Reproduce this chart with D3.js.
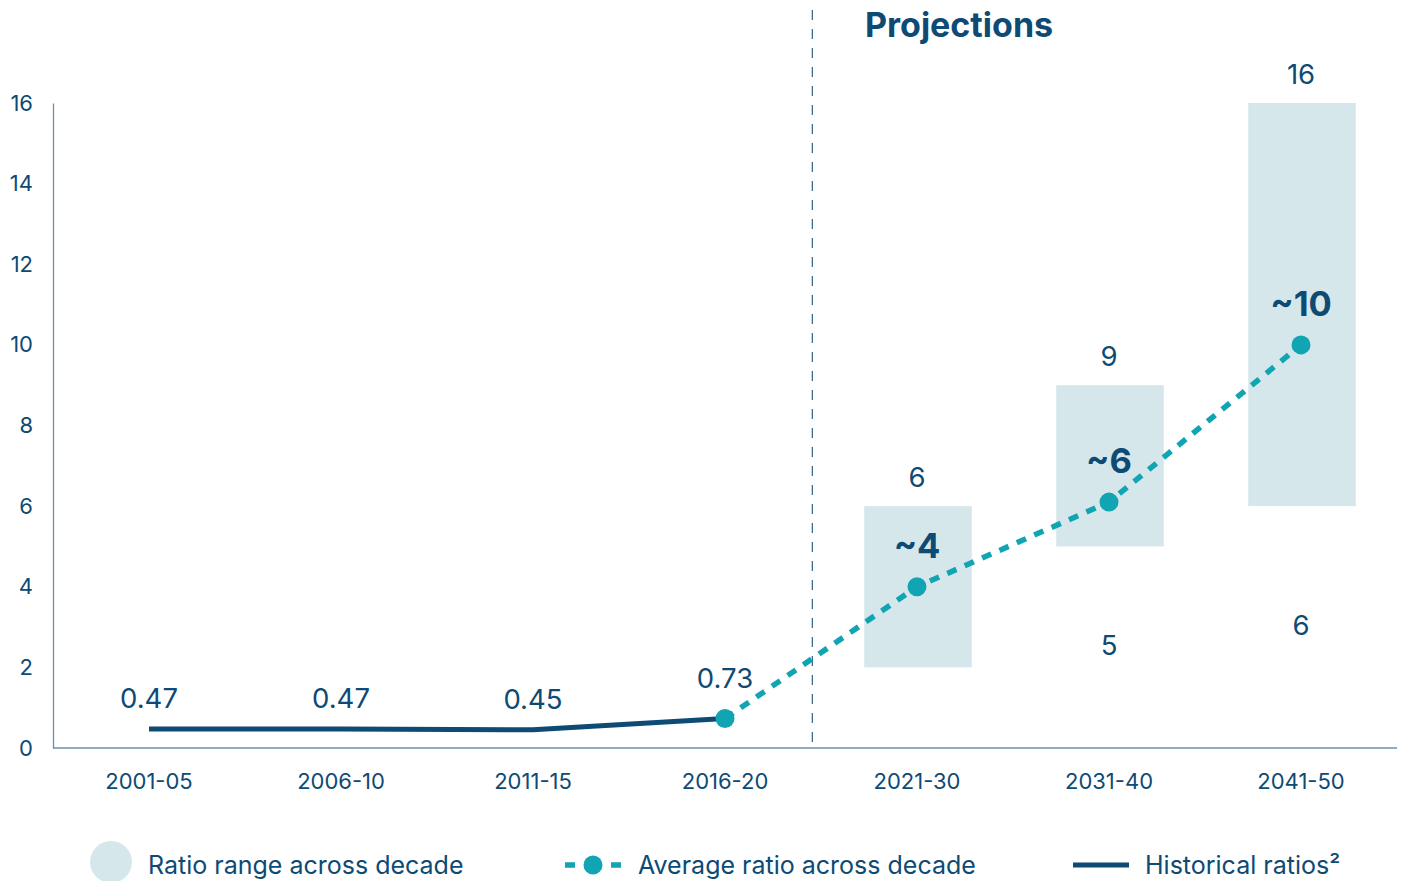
<!DOCTYPE html>
<html>
<head>
<meta charset="utf-8">
<script src="https://cdn.jsdelivr.net/npm/d3@7"></script>
<style>
  html, body { margin: 0; padding: 0; background: #ffffff; }
  svg { display: block; font-family: Inter, "Noto Sans", sans-serif; }
</style>
</head>
<body>
<svg id="chart" width="1405" height="881"></svg>
<script>
// Decades on the x axis
const categories = ["2001-05", "2006-10", "2011-15", "2016-20", "2021-30", "2031-40", "2041-50"];

// Historical ratios (solid line)
const histCats = ["2001-05", "2006-10", "2011-15", "2016-20"];
const histValues = [0.47, 0.47, 0.45, 0.73];
const histLabels = ["0.47", "0.47", "0.45", "0.73"];

// Average ratio across decade (dashed line with markers)
const avgCats = ["2016-20", "2021-30", "2031-40", "2041-50"];
const avgValues = [0.73, 4, 6.1, 10];
const avgLabels = [null, "~4", "~6", "~10"];

// Ratio range across decade (shaded boxes)
const rangeCats = ["2021-30", "2031-40", "2041-50"];
const rangeLow = [2, 5, 6];
const rangeHigh = [6, 9, 16];
const rangeHighLabels = ["6", "9", "16"];
const rangeLowLabels = [null, "5", "6"];

const yTicks = [0, 2, 4, 6, 8, 10, 12, 14, 16];

const NAVY = "#0d4a74";
const TEAL = "#11a4b2";
const BOX = "#d6e7eb";
const AXIS = "#6a91ac";

const svg = d3.select("#chart");

const x = d3.scaleBand().domain(categories).range([53, 1397]).paddingInner(0.44).paddingOuter(0.22);
const y = d3.scaleLinear().domain([0, 16]).range([748, 103]);
const cx = c => x(c) + x.bandwidth() / 2;

// Range boxes
svg.append("g").selectAll("rect")
  .data(rangeCats)
  .join("rect")
  .attr("x", d => x(d) + 1)
  .attr("width", x.bandwidth())
  .attr("y", (d, i) => y(rangeHigh[i]))
  .attr("height", (d, i) => y(rangeLow[i]) - y(rangeHigh[i]))
  .attr("fill", BOX);

// Projections divider
const divX = cx("2016-20") + x.step() * 0.455;
svg.append("line")
  .attr("x1", divX).attr("x2", divX)
  .attr("y1", 10).attr("y2", 742)
  .attr("stroke", "#3a6d91").attr("stroke-width", 1.3)
  .attr("stroke-dasharray", "10,9");

svg.append("text")
  .attr("x", 865).attr("y", 37)
  .attr("fill", NAVY).attr("font-size", 34).attr("font-weight", 700)
  .text("Projections");

// Axes
const yAxis = d3.axisLeft(y).tickValues(yTicks).tickSize(0).tickPadding(20).tickFormat(d3.format("d"));
const gy = svg.append("g").attr("transform", "translate(53,0)").call(yAxis);
gy.select(".domain").attr("stroke", AXIS).attr("stroke-width", 1.3);
gy.selectAll("text").attr("fill", NAVY).attr("font-size", 22).attr("font-family", "Inter, sans-serif");

const xAxis = d3.axisBottom(x).tickSize(0).tickPadding(25);
const gx = svg.append("g").attr("transform", "translate(0,748)").call(xAxis);
gx.select(".domain").attr("d", "M53,0H1397").attr("stroke", AXIS).attr("stroke-width", 1.3);
gx.selectAll("text").attr("fill", NAVY).attr("font-size", 22).attr("font-family", "Inter, sans-serif");

// Historical line
const histLine = d3.line().x(d => cx(d.c)).y(d => y(d.v));
const histData = histCats.map((c, i) => ({ c, v: histValues[i] }));
svg.append("path")
  .datum(histData)
  .attr("d", histLine)
  .attr("fill", "none").attr("stroke", NAVY).attr("stroke-width", 5);

// Average line
const avgData = avgCats.map((c, i) => ({ c, v: avgValues[i] }));
svg.append("path")
  .datum(avgData)
  .attr("d", histLine)
  .attr("fill", "none").attr("stroke", TEAL).attr("stroke-width", 5.5)
  .attr("stroke-dasharray", "10,9");

svg.append("g").selectAll("circle")
  .data(avgData)
  .join("circle")
  .attr("cx", d => cx(d.c)).attr("cy", d => y(d.v)).attr("r", 9.5)
  .attr("fill", TEAL);

// Historical value labels
svg.append("g").selectAll("text")
  .data(histData)
  .join("text")
  .attr("x", d => cx(d.c))
  .attr("y", (d, i) => y(d.v) - (i === histData.length - 1 ? 31 : 21))
  .attr("text-anchor", "middle")
  .attr("fill", NAVY).attr("font-size", 27.5)
  .text((d, i) => histLabels[i]);

// Average value labels
svg.append("g").selectAll("text")
  .data(avgData.filter((d, i) => avgLabels[i]))
  .join("text")
  .attr("x", d => cx(d.c))
  .attr("y", d => y(d.v) - 29)
  .attr("text-anchor", "middle")
  .attr("fill", NAVY).attr("font-size", 34.5).attr("font-weight", 700)
  .text(d => avgLabels[avgCats.indexOf(d.c)]);

// Range labels
svg.append("g").selectAll("text")
  .data(rangeCats)
  .join("text")
  .attr("x", d => cx(d))
  .attr("y", (d, i) => y(rangeHigh[i]) - 19)
  .attr("text-anchor", "middle")
  .attr("fill", NAVY).attr("font-size", 27.5)
  .text((d, i) => rangeHighLabels[i]);

svg.append("g").selectAll("text")
  .data(rangeCats.filter((d, i) => rangeLowLabels[i]))
  .join("text")
  .attr("x", d => cx(d))
  .attr("y", d => y(rangeLow[rangeCats.indexOf(d)] / 2) + 8)
  .attr("text-anchor", "middle")
  .attr("fill", NAVY).attr("font-size", 27.5)
  .text(d => rangeLowLabels[rangeCats.indexOf(d)]);

// Legend
const lg = svg.append("g");
lg.append("circle").attr("cx", 111).attr("cy", 862).attr("r", 21).attr("fill", BOX);
lg.append("text").attr("x", 148).attr("y", 874).attr("fill", NAVY).attr("font-size", 25).text("Ratio range across decade");

lg.append("line").attr("x1", 565).attr("x2", 621).attr("y1", 865).attr("y2", 865)
  .attr("stroke", TEAL).attr("stroke-width", 5.5).attr("stroke-dasharray", "10,36");
lg.append("circle").attr("cx", 593).attr("cy", 865).attr("r", 9.5).attr("fill", TEAL);
lg.append("text").attr("x", 638).attr("y", 874).attr("fill", NAVY).attr("font-size", 25).text("Average ratio across decade");

lg.append("line").attr("x1", 1073).attr("x2", 1129).attr("y1", 865).attr("y2", 865)
  .attr("stroke", NAVY).attr("stroke-width", 5);
lg.append("text").attr("x", 1145).attr("y", 874).attr("fill", NAVY).attr("font-size", 25).text("Historical ratios²");
</script>
</body>
</html>
